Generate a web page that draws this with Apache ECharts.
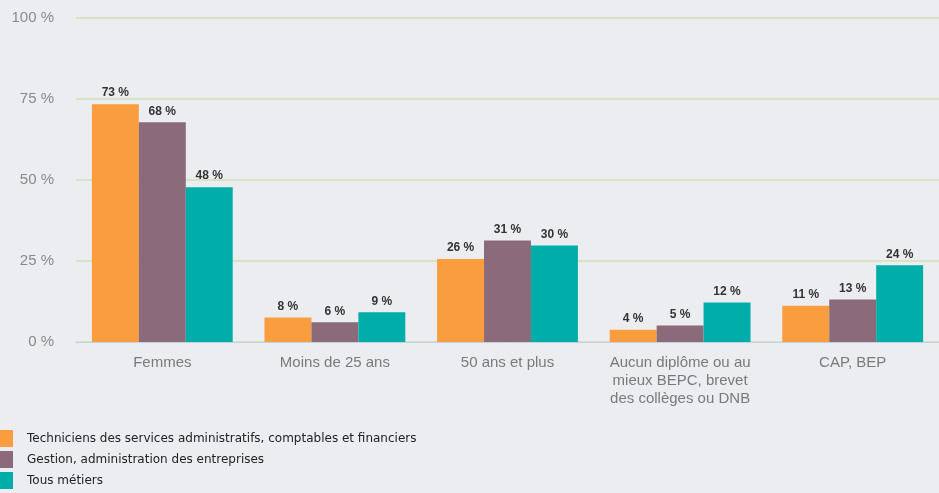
<!DOCTYPE html>
<html>
<head>
<meta charset="utf-8">
<script src="https://cdn.jsdelivr.net/npm/echarts@6/dist/echarts.min.js"></script>
<style>
  html, body { margin: 0; padding: 0; background: #ecedf0; }
  #chart { width: 939px; height: 493px; }
</style>
</head>
<body>
<div id="chart"></div>
<script>
const categories = ['Femmes', 'Moins de 25 ans', '50 ans et plus', 'Aucun diplôme ou au\nmieux BEPC, brevet\ndes collèges ou DNB', 'CAP, BEP']
const seriesNames = [
  'Techniciens des services administratifs, comptables et financiers',
  'Gestion, administration des entreprises',
  'Tous métiers'
]
const techniciens = [73.4, 7.6, 25.6, 3.8, 11.2]
const gestion = [67.8, 6.1, 31.3, 5.1, 13.1]
const tousMetiers = [47.8, 9.2, 29.8, 12.2, 23.7]
const yTicks = [0, 25, 50, 75, 100]
const colors = ['#f99d3e', '#8b6a7a', '#00ada8']
const sansFont = "'Liberation Sans', Arial, Helvetica, sans-serif"

const chart = echarts.init(document.getElementById('chart'))

const makeSeries = (name, data, color) => ({
  name,
  type: 'bar',
  data,
  barGap: '0%',
  barCategoryGap: '18.4%',
  itemStyle: { color },
  label: {
    show: true,
    position: 'top',
    distance: 5,
    formatter: p => Math.round(p.value) + ' %',
    fontFamily: sansFont,
    fontWeight: 'bold',
    fontSize: 12,
    color: '#333'
  }
})

chart.setOption({
  backgroundColor: '#ecedf0',
  animation: false,
  grid: { left: 76, right: 0, top: 18, bottom: 151 },
  legend: {
    orient: 'vertical',
    left: 0,
    top: 430,
    height: 70,
    padding: 0,
    itemWidth: 13,
    itemHeight: 17,
    itemGap: 4,
    icon: 'rect',
    textStyle: { fontFamily: 'DejaVu Sans', fontSize: 12, color: '#222', padding: [0, 0, 0, 9] },
    data: seriesNames
  },
  xAxis: {
    type: 'category',
    data: categories,
    axisTick: { show: false },
    axisLine: { lineStyle: { color: '#c4cfe0', width: 1 } },
    axisLabel: {
      fontFamily: sansFont,
      fontSize: 15,
      color: '#7a7a7a',
      lineHeight: 18,
      margin: 12,
      interval: 0
    }
  },
  yAxis: {
    type: 'value',
    min: yTicks[0],
    max: yTicks[yTicks.length - 1],
    interval: 25,
    axisLabel: {
      formatter: v => v + ' %',
      fontFamily: sansFont,
      fontSize: 15,
      color: '#8a8a8a',
      margin: 22
    },
    splitLine: { lineStyle: { color: '#cfe0b4', width: 1.5 } }
  },
  series: [
    makeSeries(seriesNames[0], techniciens, colors[0]),
    makeSeries(seriesNames[1], gestion, colors[1]),
    makeSeries(seriesNames[2], tousMetiers, colors[2])
  ]
})
</script>
</body>
</html>
